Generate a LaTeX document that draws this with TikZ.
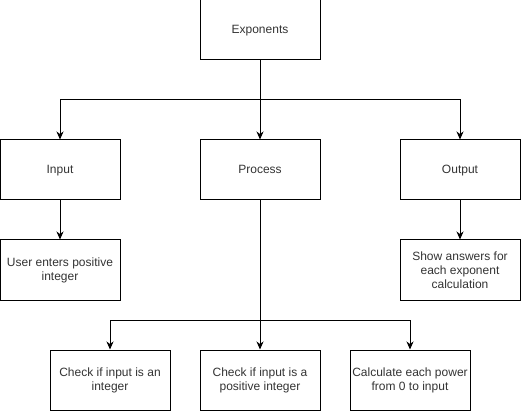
\documentclass[tikz,border=0pt]{standalone}
\usepackage{fontspec}
\setmainfont{Liberation Sans}
\usetikzlibrary{arrows.meta}
\begin{document}
\begin{tikzpicture}[x=1pt,y=-1pt,
  box/.style={draw=black,line width=1pt,minimum width=120pt,minimum height=60pt,align=center,inner sep=0pt,font=\fontsize{12pt}{14pt}\selectfont,text=black!80},
  onebox/.style={box,text height=10pt,text depth=2pt},
  conn/.style={draw=black,line width=1pt,-{Stealth[length=8pt,width=7pt,inset=2.5pt]}},
  line/.style={draw=black,line width=1pt}]
\useasboundingbox (0,0) rectangle (521,411);
\node[onebox] (exp) at (260,30) {Exponents};
\node[onebox] (inp) at (60,170) {Input};
\node[onebox] (proc) at (260,170) {Process};
\node[onebox] (out) at (460,170) {Output};
\node[box] (user) at (60,270) {User enters positive\\integer};
\node[box] (show) at (460,270) {Show answers for\\each exponent\\calculation};
\node[box] (c1) at (110,380) {Check if input is an\\integer};
\node[box] (c2) at (260,380) {Check if input is a\\positive integer};
\node[box] (c3) at (410,380) {Calculate each power\\from 0 to input};
\coordinate (t) at (260,100);
\coordinate (b) at (260,320);
\draw[line] (exp.south) -- (t);
\draw[conn] (t) -| (inp.north);
\draw[conn] (t) -| (out.north);
\draw[conn] (t) -- (proc.north);
\draw[conn] (inp) -- (user);
\draw[conn] (out) -- (show);
\draw[line] (proc.south) -- (b);
\draw[conn] (b) -| (c1.north);
\draw[conn] (b) -| (c3.north);
\draw[conn] (b) -- (c2.north);
\end{tikzpicture}
\end{document}
